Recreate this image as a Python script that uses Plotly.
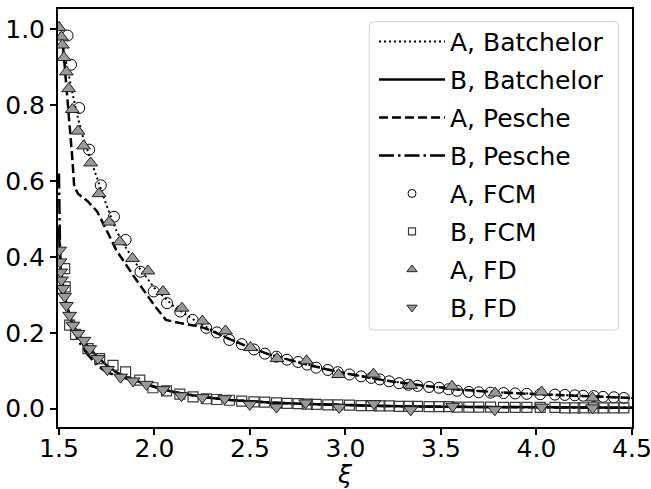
import plotly.graph_objects as go

# ---------------- data ----------------
# A, Batchelor (dotted)
bat_a_xi = [1.500, 1.510, 1.520, 1.540, 1.560, 1.580, 1.600, 1.630, 1.660, 1.700, 1.750, 1.800,
            1.850, 1.900, 1.950, 2.000, 2.100, 2.200, 2.300, 2.400, 2.500, 2.600, 2.700, 2.800,
            2.900, 3.000, 3.200, 3.400, 3.600, 3.800, 4.000, 4.200, 4.400, 4.500]
bat_a_val = [1.005, 0.980, 0.955, 0.905, 0.855, 0.810, 0.765, 0.710, 0.665, 0.605, 0.535, 0.470,
             0.425, 0.385, 0.350, 0.318, 0.270, 0.236, 0.207, 0.182, 0.161, 0.143, 0.129, 0.116,
             0.104, 0.093, 0.075, 0.061, 0.050, 0.043, 0.038, 0.034, 0.030, 0.028]

# B, Batchelor (solid)
bat_b_xi = [1.500, 1.502, 1.505, 1.510, 1.520, 1.530, 1.540, 1.560, 1.580, 1.600, 1.630, 1.660,
            1.700, 1.750, 1.800, 1.850, 1.900, 1.950, 2.000, 2.100, 2.200, 2.300, 2.400, 2.500,
            2.600, 2.800, 3.000, 3.200, 3.500, 4.000, 4.500]
bat_b_val = [0.480, 0.430, 0.400, 0.365, 0.325, 0.298, 0.274, 0.240, 0.216, 0.197, 0.176, 0.158,
             0.137, 0.114, 0.096, 0.084, 0.074, 0.065, 0.057, 0.044, 0.035, 0.028, 0.023, 0.019,
             0.016, 0.012, 0.009, 0.007, 0.005, 0.003, 0.002]

# A, Pesche (dashed)
pes_a_xi = [1.500, 1.505, 1.520, 1.540, 1.555, 1.570, 1.580, 1.600, 1.650, 1.700, 1.750, 1.800,
            1.900, 2.000, 2.060, 2.120, 2.240, 2.300, 2.400, 2.500, 2.600, 2.700, 2.800, 2.900,
            3.000, 3.200, 3.400, 3.600, 3.800, 4.000, 4.200, 4.400, 4.500]
pes_a_val = [1.020, 1.010, 0.965, 0.850, 0.760, 0.660, 0.585, 0.567, 0.547, 0.520, 0.470, 0.418,
             0.343, 0.272, 0.234, 0.227, 0.216, 0.205, 0.182, 0.161, 0.143, 0.129, 0.116, 0.104,
             0.093, 0.075, 0.061, 0.050, 0.043, 0.038, 0.034, 0.030, 0.028]

# B, Pesche (dash-dot)
pes_b_xi = [1.500, 1.501, 1.503, 1.506, 1.510, 1.520, 1.540, 1.560, 1.580, 1.600, 1.650, 1.700,
            1.750, 1.800, 1.850, 1.900, 1.950, 2.000, 2.100, 2.200, 2.300, 2.400, 2.500, 2.600,
            2.800, 3.000, 3.200, 3.500, 4.000, 4.500]
pes_b_val = [0.620, 0.550, 0.470, 0.410, 0.370, 0.325, 0.272, 0.235, 0.205, 0.180, 0.143, 0.114,
             0.096, 0.087, 0.080, 0.073, 0.065, 0.057, 0.044, 0.035, 0.028, 0.023, 0.019, 0.016,
             0.012, 0.009, 0.007, 0.005, 0.003, 0.002]

# A, FCM (open circles)
fcm_a_xi = [1.545, 1.563, 1.606, 1.658, 1.719, 1.788, 1.849, 1.927, 1.996, 2.066, 2.135, 2.200,
            2.271, 2.327, 2.392, 2.457, 2.521, 2.578, 2.639, 2.694, 2.752, 2.800, 2.847, 2.908,
            2.960, 3.021, 3.082, 3.135, 3.180, 3.229, 3.281, 3.330, 3.377, 3.438, 3.490, 3.540,
            3.585, 3.646, 3.698, 3.760, 3.828, 3.889, 3.950, 4.020, 4.097, 4.149, 4.201, 4.245,
            4.300, 4.349, 4.406, 4.458]
fcm_a_val = [0.984, 0.907, 0.793, 0.683, 0.589, 0.506, 0.445, 0.361, 0.309, 0.278, 0.256, 0.234,
             0.213, 0.201, 0.181, 0.170, 0.156, 0.145, 0.137, 0.129, 0.123, 0.116, 0.108, 0.102,
             0.096, 0.090, 0.085, 0.081, 0.077, 0.072, 0.067, 0.063, 0.060, 0.057, 0.055, 0.051,
             0.047, 0.044, 0.043, 0.042, 0.041, 0.040, 0.039, 0.038, 0.037, 0.036, 0.035, 0.034,
             0.033, 0.031, 0.030, 0.028]

# B, FCM (open squares)
fcm_b_xi = [1.530, 1.533, 1.556, 1.587, 1.652, 1.713, 1.783, 1.849, 1.923, 1.992, 2.063, 2.133,
            2.202, 2.272, 2.327, 2.392, 2.457, 2.521, 2.578, 2.639, 2.694, 2.752, 2.800, 2.847,
            2.908, 2.960, 3.021, 3.082, 3.135, 3.180, 3.229, 3.281, 3.330, 3.377, 3.438, 3.490,
            3.540, 3.585, 3.646, 3.698, 3.760, 3.828, 3.889, 3.950, 4.020, 4.097, 4.149, 4.201,
            4.245, 4.300, 4.349, 4.406, 4.458]
fcm_b_val = [0.369, 0.321, 0.220, 0.196, 0.158, 0.132, 0.114, 0.097, 0.075, 0.055, 0.047, 0.038,
             0.031, 0.026, 0.024, 0.022, 0.020, 0.018, 0.017, 0.015, 0.014, 0.013, 0.012, 0.011,
             0.010, 0.010, 0.009, 0.008, 0.008, 0.007, 0.007, 0.006, 0.006, 0.006, 0.005, 0.005,
             0.005, 0.004, 0.004, 0.004, 0.004, 0.003, 0.003, 0.003, 0.003, 0.003, 0.002, 0.002,
             0.002, 0.002, 0.002, 0.002, 0.002]

# A, FD (grey up-triangles)
fd_a_xi = [1.500, 1.513, 1.518, 1.526, 1.539, 1.551, 1.570, 1.600, 1.629, 1.666, 1.710, 1.762,
           1.818, 1.885, 1.966, 2.045, 2.144, 2.251, 2.372, 2.503, 2.642, 2.796, 2.964, 3.147,
           3.342, 3.558, 3.784, 4.027, 4.294]
fd_a_val = [1.005, 0.980, 0.959, 0.926, 0.888, 0.844, 0.789, 0.732, 0.693, 0.648, 0.567, 0.492,
            0.440, 0.396, 0.363, 0.309, 0.265, 0.231, 0.205, 0.161, 0.132, 0.126, 0.090, 0.091,
            0.061, 0.059, 0.041, 0.044, 0.028]

# B, FD (grey down-triangles)
fd_b_xi = [1.503, 1.505, 1.509, 1.513, 1.521, 1.530, 1.539, 1.556, 1.573, 1.600, 1.631, 1.661,
           1.704, 1.754, 1.823, 1.888, 1.958, 2.045, 2.141, 2.251, 2.368, 2.499, 2.639, 2.792,
           2.967, 3.149, 3.342, 3.561, 3.782, 4.027, 4.294]
fd_b_val = [0.418, 0.387, 0.360, 0.339, 0.317, 0.296, 0.272, 0.246, 0.220, 0.198, 0.180, 0.158,
            0.132, 0.103, 0.083, 0.073, 0.064, 0.050, 0.034, 0.029, 0.026, 0.011, 0.004, 0.015,
            0.003, 0.013, -0.003, 0.006, -0.003, 0.004, 0.002]

x_ticks = [1.5, 2.0, 2.5, 3.0, 3.5, 4.0, 4.5]
y_ticks = [0.0, 0.2, 0.4, 0.6, 0.8, 1.0]

FONT = "DejaVu Sans"
FS = 25
TRI_FILL = "#999999"

# marker styles: (name, xs, ys, symbol, plot size, legend size, fill, edge colour, edge width)
marker_series = [
    ("A, FCM", fcm_a_xi, fcm_a_val, "circle", 11, 8, "rgba(0,0,0,0)", "black", 1),
    ("B, FCM", fcm_b_xi, fcm_b_val, "square", 10, 7, "rgba(0,0,0,0)", "#3a3a3a", 1.2),
    ("A, FD", fd_a_xi, fd_a_val, "triangle-up", 12, 9, TRI_FILL, "#222222", 1),
    ("B, FD", fd_b_xi, fd_b_val, "triangle-down", 12, 9, TRI_FILL, "#222222", 1),
]

fig = go.Figure()

def line_trace(x, y, name, dash, width):
    return go.Scatter(x=x, y=y, mode="lines", name=name, legendgroup=name,
                      line=dict(color="black", width=width, dash=dash))

fig.add_trace(line_trace(bat_a_xi, bat_a_val, "A, Batchelor", "2px,3px", 2))
fig.add_trace(line_trace(bat_b_xi, bat_b_val, "B, Batchelor", "solid", 2.5))
fig.add_trace(line_trace(pes_a_xi, pes_a_val, "A, Pesche", "9px,4px", 2.5))
fig.add_trace(line_trace(pes_b_xi, pes_b_val, "B, Pesche", "15px,4px,2.5px,4px", 2.5))

for name, xs, ys, sym, size, lsize, fill, edge, ew in marker_series:
    fig.add_trace(go.Scatter(x=xs, y=ys, mode="markers", name=name, legendgroup=name,
                             showlegend=False,
                             marker=dict(symbol=sym, size=size, color=fill,
                                         line=dict(color=edge, width=ew))))
for name, xs, ys, sym, size, lsize, fill, edge, ew in marker_series:
    # legend-only entry with the smaller legend marker
    fig.add_trace(go.Scatter(x=[None], y=[None], mode="markers", name=name, legendgroup=name,
                             showlegend=True, hoverinfo="skip",
                             marker=dict(symbol=sym, size=lsize, color=fill,
                                         line=dict(color=edge, width=ew))))

axis_common = dict(showline=True, linecolor="black", linewidth=2, mirror=True,
                   ticks="outside", ticklen=6, tickwidth=2, tickcolor="black",
                   showgrid=False, zeroline=False, automargin=False,
                   tickfont=dict(family=FONT, size=FS, color="black"))

# legend frame (rounded rectangle, paper coordinates)
lx0, lx1, ly0, ly1 = 0.5423, 0.9761, 0.2321, 0.9696
rx, ry = 4 / 574, 4 / 418
frame_path = (f"M {lx0+rx} {ly1} L {lx1-rx} {ly1} Q {lx1} {ly1} {lx1} {ly1-ry} "
              f"L {lx1} {ly0+ry} Q {lx1} {ly0} {lx1-rx} {ly0} "
              f"L {lx0+rx} {ly0} Q {lx0} {ly0} {lx0} {ly0+ry} "
              f"L {lx0} {ly1-ry} Q {lx0} {ly1} {lx0+rx} {ly1} Z")

fig.update_layout(
    template="none",
    width=651, height=489, autosize=False,
    margin=dict(l=58, r=19, t=9, b=62, pad=0),
    paper_bgcolor="white", plot_bgcolor="white",
    font=dict(family=FONT, size=FS, color="black"),
    xaxis=dict(range=[1.495, 4.5005], tickvals=x_ticks, ticktext=[f"{v:.1f}" for v in x_ticks],
               ticklabeloverflow="allow", ticklabelstandoff=-8, **axis_common),
    yaxis=dict(range=[-0.0485, 1.054], tickvals=y_ticks, ticktext=[f"{v:.1f}" for v in y_ticks],
               **axis_common),
    shapes=[dict(type="path", xref="paper", yref="paper", path=frame_path,
                 line=dict(color="#d0d0d0", width=1), fillcolor="white", layer="above")],
    annotations=[dict(text="<i>ξ</i>", xref="paper", yref="paper", x=0.5, y=0,
                      xanchor="center", yanchor="middle", yshift=-47, showarrow=False,
                      font=dict(family=FONT, size=FS, color="black"))],
    legend=dict(x=(374 - 58) / 574, y=0.9768, xanchor="left", yanchor="top",
                bgcolor="rgba(0,0,0,0)", borderwidth=0,
                font=dict(family=FONT, size=FS, color="black"),
                traceorder="grouped", tracegroupgap=2.5, itemwidth=66),
    showlegend=True,
)

fig.write_html("out.html", config={"displayModeBar": False},
               post_script="document.body.style.margin='0px';document.body.style.overflow='hidden';")
